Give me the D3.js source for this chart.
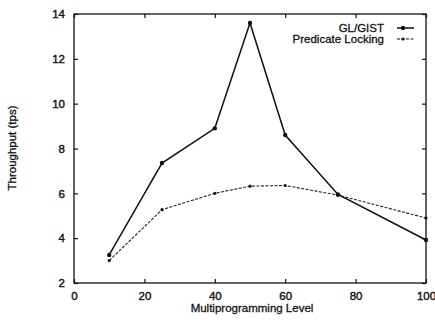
<!DOCTYPE html>
<html>
<head>
<meta charset="utf-8">
<script src="https://cdn.jsdelivr.net/npm/d3@7"></script>
<style>
  body { margin: 0; background: #fff; }
  text { font-family: "Liberation Sans", Arial, sans-serif; fill: #111; }
</style>
</head>
<body>
<div id="chart"></div>
<script>
const levels = [10, 25, 40, 50, 60, 75, 100];
const glGist = [3.25, 7.35, 8.9, 13.6, 8.6, 5.95, 3.92];
const predLocking = [3.0, 5.27, 6.0, 6.32, 6.35, 5.92, 4.9];
const xTicks = [0, 20, 40, 60, 80, 100];
const yTicks = [2, 4, 6, 8, 10, 12, 14];

const w = 435;
const h = 320;
const padL = 74, padR = 426, padT = 14, padB = 283;

const x = d3.scaleLinear().domain([0, 100]).range([padL, padR]);
const y = d3.scaleLinear().domain([2, 14]).range([padB, padT]);

const svg = d3.select("#chart")
  .append("svg")
  .attr("width", w)
  .attr("height", h);

// frame
svg.append("rect")
  .attr("x", padL).attr("y", padT)
  .attr("width", padR - padL).attr("height", padB - padT)
  .attr("fill", "none").attr("stroke", "#111").attr("stroke-width", 1.3);

// axes with inward ticks
const tk = 4;
svg.append("g")
  .attr("transform", "translate(0," + padB + ")")
  .call(d3.axisBottom(x).tickValues(xTicks).tickSizeInner(-tk).tickSizeOuter(0).tickPadding(9))
  .call(g => g.select(".domain").remove());
svg.append("g")
  .attr("transform", "translate(0," + padT + ")")
  .call(d3.axisTop(x).tickValues(xTicks).tickSizeInner(-tk).tickSizeOuter(0).tickFormat(""))
  .call(g => g.select(".domain").remove());
svg.append("g")
  .attr("transform", "translate(" + padL + ",0)")
  .call(d3.axisLeft(y).tickValues(yTicks).tickSizeInner(-tk).tickSizeOuter(0).tickPadding(9))
  .call(g => g.select(".domain").remove());
svg.append("g")
  .attr("transform", "translate(" + padR + ",0)")
  .call(d3.axisRight(y).tickValues(yTicks).tickSizeInner(-tk).tickSizeOuter(0).tickFormat(""))
  .call(g => g.select(".domain").remove());

svg.selectAll(".tick line").attr("stroke", "#111").attr("stroke-width", 1.2);
svg.selectAll(".tick text")
  .attr("font-size", 11.5)
  .attr("font-family", "Liberation Sans, Arial, sans-serif")
  .attr("fill", "#111")
  .attr("stroke", "#111").attr("stroke-width", 0.4);

// axis titles
svg.append("text")
  .attr("x", (padL + padR) / 2 + 2)
  .attr("y", 312)
  .attr("text-anchor", "middle")
  .attr("font-size", 11.5)
  .attr("stroke", "#111").attr("stroke-width", 0.3)
  .text("Multiprogramming Level");

svg.append("text")
  .attr("transform", "translate(16,148) rotate(-90)")
  .attr("text-anchor", "middle")
  .attr("font-size", 11.5)
  .attr("stroke", "#111").attr("stroke-width", 0.3)
  .text("Throughput (tps)");

const line = d3.line()
  .x((d, i) => x(levels[i]))
  .y(d => y(d));

// series
svg.append("path")
  .datum(predLocking)
  .attr("d", line)
  .attr("fill", "none")
  .attr("stroke", "#222")
  .attr("stroke-width", 1.1)
  .attr("stroke-dasharray", "3,1.5");

svg.selectAll(".predPt")
  .data(predLocking)
  .enter()
  .append("circle")
  .attr("class", "predPt")
  .attr("cx", (d, i) => x(levels[i]))
  .attr("cy", d => y(d))
  .attr("r", 1.6)
  .attr("fill", "#111");

svg.append("path")
  .datum(glGist)
  .attr("d", line)
  .attr("fill", "none")
  .attr("stroke", "#111")
  .attr("stroke-width", 1.5);

svg.selectAll(".glPt")
  .data(glGist)
  .enter()
  .append("circle")
  .attr("class", "glPt")
  .attr("cx", (d, i) => x(levels[i]))
  .attr("cy", d => y(d))
  .attr("r", 2.2)
  .attr("fill", "#111");

// legend
const legend = [
  { name: "GL/GIST", dash: null, r: 2.2, sw: 1.5 },
  { name: "Predicate Locking", dash: "3,1.5", r: 1.6, sw: 1.1 }
];
legend.forEach((d, i) => {
  const ly = 28 + i * 11;
  svg.append("text")
    .attr("x", 384).attr("y", ly + 4)
    .attr("text-anchor", "end")
    .attr("font-size", 11.5)
    .attr("stroke", "#111").attr("stroke-width", 0.3)
    .text(d.name);
  svg.append("line")
    .attr("x1", 397).attr("x2", 414)
    .attr("y1", ly).attr("y2", ly)
    .attr("stroke", "#111").attr("stroke-width", d.sw)
    .attr("stroke-dasharray", d.dash);
  svg.append("circle")
    .attr("cx", 403).attr("cy", ly).attr("r", d.r).attr("fill", "#111");
});
</script>
</body>
</html>
